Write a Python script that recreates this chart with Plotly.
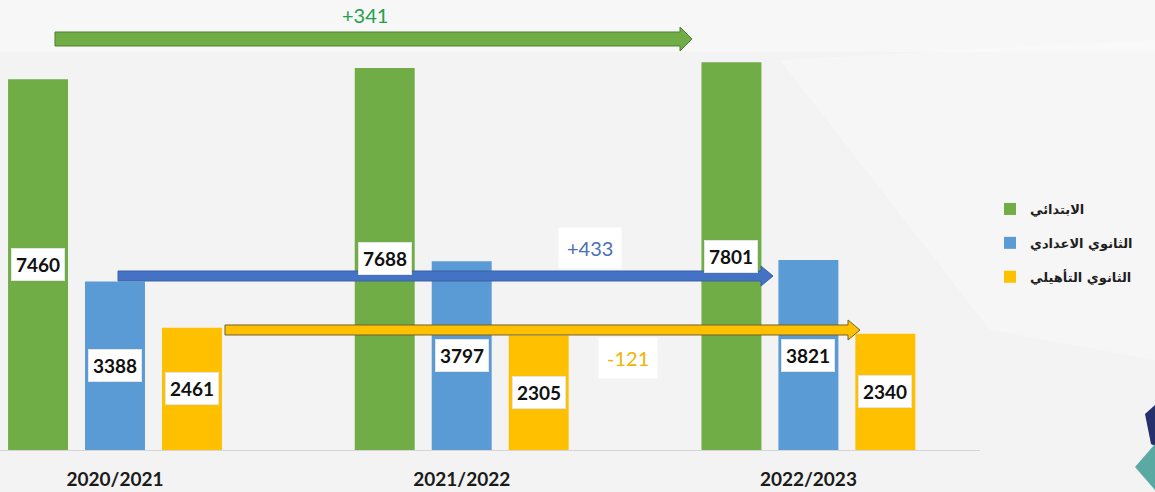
import plotly.graph_objects as go

# ---------------- data ----------------
years = ["2020/2021", "2021/2022", "2022/2023"]
primary = [7460, 7688, 7801]
middle_school = [3388, 3797, 3821]
high_school = [2461, 2305, 2340]
series_names = ["الابتدائي", "الثانوي الاعدادي", "الثانوي التأهيلي"]
colors = ["#70AD47", "#5B9BD5", "#FFC000"]
changes = ["+341", "+433", "-121"]

# ---------------- layout constants ----------------
W, H = 1155, 492
PL, PR = 0, 980      # plot area in px (x)
PT, PB = 0, 450      # plot area in px (y)
YMAX = 9054
BARGAP = 0.334
BARGROUPGAP = 0.221
CAT_PX = 346.7
FIRST_CENTER = 115


def px2x(px):
    return (px - PL) / (PR - PL)


def py2y(py):
    return (PB - py) / (PB - PT)


fig = go.Figure()
all_series = [primary, middle_school, high_school]
for name, vals, c in zip(series_names, all_series, colors):
    fig.add_trace(go.Bar(
        x=years, y=vals, name=name, legendgroup=name,
        marker=dict(color=c, line=dict(width=0)),
        hoverinfo="skip",
    ))

annotations = []
slot = (1 - BARGAP) / 3
for j, vals in enumerate(all_series):
    for i, v in enumerate(vals):
        annotations.append(dict(
            x=i + (j - 1) * slot, y=v / 2, xref="x", yref="y",
            xanchor="center", yanchor="middle",
            text=f"<b>{v}</b>", showarrow=False,
            font=dict(family="Lato, sans-serif", size=19, color="#111111"),
            bgcolor="#ffffff", bordercolor="#e4e4e4", borderwidth=1, borderpad=4,
        ))


def arrow_path(x0, x1, yc, shaft, head_h, head_len):
    xh = x1 - head_len
    pts = [
        (x0, yc - shaft / 2), (xh, yc - shaft / 2), (xh, yc - head_h / 2),
        (x1, yc), (xh, yc + head_h / 2), (xh, yc + shaft / 2), (x0, yc + shaft / 2),
    ]
    return "M " + " L ".join(f"{px2x(a):.5f},{py2y(b):.5f}" for a, b in pts) + " Z"


def poly(pts):
    return "M " + " L ".join(f"{px2x(a):.5f},{py2y(b):.5f}" for a, b in pts) + " Z"


shapes = []
# faint background panels
shapes.append(dict(type="path", xref="paper", yref="paper", layer="below",
                   path=poly([(0, 0), (1155, 0), (1155, 52), (0, 52)]),
                   fillcolor="rgba(255,255,255,0.35)", line=dict(width=0)))
shapes.append(dict(type="path", xref="paper", yref="paper", layer="below",
                   path=poly([(780, 60), (1155, 40), (1155, 360), (990, 330)]),
                   fillcolor="rgba(255,255,255,0.3)", line=dict(width=0)))

# change arrows
arrow_specs = [
    (55, 692, 39, 14, 24, 12, "#70AD47", "#4e7f32"),
    (118, 773, 276, 10, 20, 12, "#4472C4", "#3a62a8"),
    (225, 860, 330, 10, 20, 12, "#FFC000", "#6f6030"),
]
for x0, x1, yc, s, hh, hl, fc, lc in arrow_specs:
    shapes.append(dict(type="path", xref="paper", yref="paper", layer="above",
                       path=arrow_path(x0, x1, yc, s, hh, hl),
                       fillcolor=fc, line=dict(color=lc, width=1)))

# decorative logo pieces bottom-right
shapes.append(dict(type="path", xref="paper", yref="paper", layer="above",
                   path=poly([(1145, 414), (1155, 405), (1155, 446), (1151, 444)]),
                   fillcolor="#26306b", line=dict(width=0)))
shapes.append(dict(type="path", xref="paper", yref="paper", layer="above",
                   path=poly([(1135, 467), (1155, 444), (1155, 490)]),
                   fillcolor="#5aa9a3", line=dict(width=0)))

# change texts
change_pos = [(365, 15, "#23a04a", None), (590, 248, "#4a70b6", "#ffffff"), (628, 358, "#f0b400", "#ffffff")]
for txt, (cx, cy, col, bg) in zip(changes, change_pos):
    a = dict(x=px2x(cx), y=py2y(cy), xref="paper", yref="paper", text=txt, showarrow=False,
             xanchor="center", yanchor="middle",
             font=dict(family="Lato, sans-serif", size=20, color=col))
    if bg:
        a.update(bgcolor=bg, borderpad=8)
    annotations.append(a)

fig.update_layout(
    width=W, height=H,
    margin=dict(l=PL, r=W - PR, t=PT, b=H - PB, pad=0),
    paper_bgcolor="#f3f3f3", plot_bgcolor="rgba(0,0,0,0)",
    barmode="group", bargap=BARGAP, bargroupgap=BARGROUPGAP,
    showlegend=True,
    legend=dict(x=px2x(990), y=py2y(194), xanchor="left", yanchor="top",
                font=dict(family="DejaVu Sans, sans-serif", size=13, color="#1e1e1e", weight="bold"),
                bgcolor="rgba(0,0,0,0)", tracegroupgap=14, itemwidth=30),
    xaxis=dict(range=[-FIRST_CENTER / CAT_PX, (PR - PL - FIRST_CENTER) / CAT_PX],
               showline=True, linecolor="#d6d6d6", linewidth=1, showgrid=False, zeroline=False,
               ticks="outside", ticklen=12, tickcolor="rgba(0,0,0,0)",
               tickfont=dict(family="Lato, sans-serif", size=19, color="#1a1a1a", weight="bold")),
    yaxis=dict(range=[0, YMAX], visible=False, showgrid=False, zeroline=False),
    shapes=shapes, annotations=annotations,
)

fig.write_html("out.html",
               config={"displayModeBar": False},
               post_script="document.body.style.margin='0';document.body.style.padding='0';"
                           "document.documentElement.style.overflow='hidden';")
